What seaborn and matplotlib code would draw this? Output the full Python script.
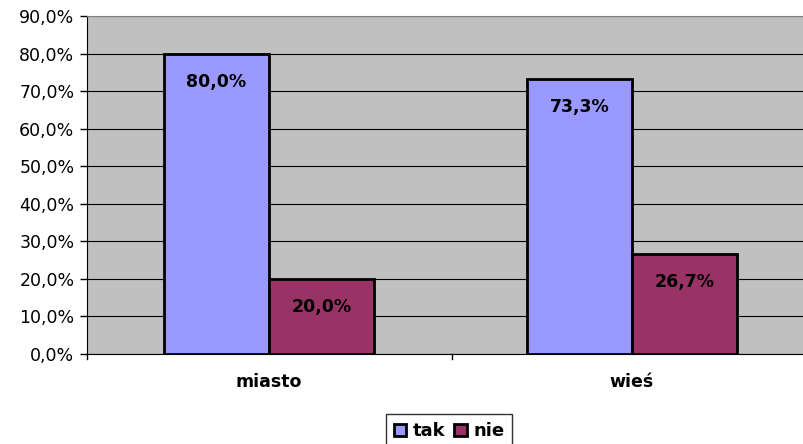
import matplotlib.pyplot as plt
import seaborn as sns
import pandas as pd
from matplotlib.patches import Patch

categories = ["miasto", "wieś"]
series = ["tak", "nie"]
tak_values = [80.0, 73.3]
nie_values = [20.0, 26.7]
tick_labels = ["0,0%", "10,0%", "20,0%", "30,0%", "40,0%", "50,0%", "60,0%", "70,0%", "80,0%", "90,0%"]

df = pd.DataFrame({
    "kategoria": categories * 2,
    "odp": ["tak"] * len(categories) + ["nie"] * len(categories),
    "wartosc": tak_values + nie_values,
})

colors = {"tak": "#9999FF", "nie": "#993366"}

plt.rcParams["font.family"] = ["DejaVu Sans"]

fig = plt.figure(figsize=(8.04, 4.44), dpi=100)
ax = fig.add_axes([87 / 804, 1 - 354 / 444, 1 - 87 / 804, (354 - 16) / 444])
ax.set_facecolor("#C0C0C0")

sns.barplot(data=df, x="kategoria", y="wartosc", hue="odp", hue_order=series,
            palette=colors, width=0.578, edgecolor="black", linewidth=2,
            saturation=1, ax=ax, legend=False, zorder=3)

for container in ax.containers:
    labels = [f"{v:.1f}%".replace(".", ",") for v in container.datavalues]
    ax.bar_label(container, labels=labels, padding=-27, fontsize=12.5,
                 fontweight="bold", color="black")

ax.set_ylim(0, 90)
ax.set_yticks(range(0, 91, 10))
ax.set_yticklabels(tick_labels, fontsize=12.5)
ax.set_xlim(-0.501, 1.474)
ax.set_xticks([0, 1])
ax.set_xticklabels(categories, fontsize=12.5, fontweight="bold")
ax.tick_params(axis="x", length=0, pad=14)
ax.tick_params(axis="y", length=5, width=1, color="black", pad=4)
ax.set_xlabel("")
ax.set_ylabel("")

ax.grid(axis="y", color="black", linewidth=0.8, zorder=0)
ax.set_axisbelow(True)
ax.spines["right"].set_visible(False)
ax.spines["top"].set_color("#808080")
ax.spines["left"].set_color("black")
ax.spines["bottom"].set_color("black")

# small ticks below the x axis at category borders
for xb in [-0.501, 0.504]:
    ax.plot([xb, xb], [0, -1.3], color="black", linewidth=1, clip_on=False)

handles = [Patch(facecolor=colors[s], edgecolor="black", linewidth=2, label=s) for s in series]
leg = fig.legend(handles=handles, loc="lower center", bbox_to_anchor=(449 / 804, -0.03),
                 ncol=2, frameon=True, fancybox=False, edgecolor="black",
                 prop={"weight": "bold", "size": 13}, handlelength=0.7, handleheight=0.7,
                 handletextpad=0.35, columnspacing=0.5, borderpad=0.45)
leg.get_frame().set_linewidth(1)

fig.savefig("out.png", dpi=100, facecolor="white")
